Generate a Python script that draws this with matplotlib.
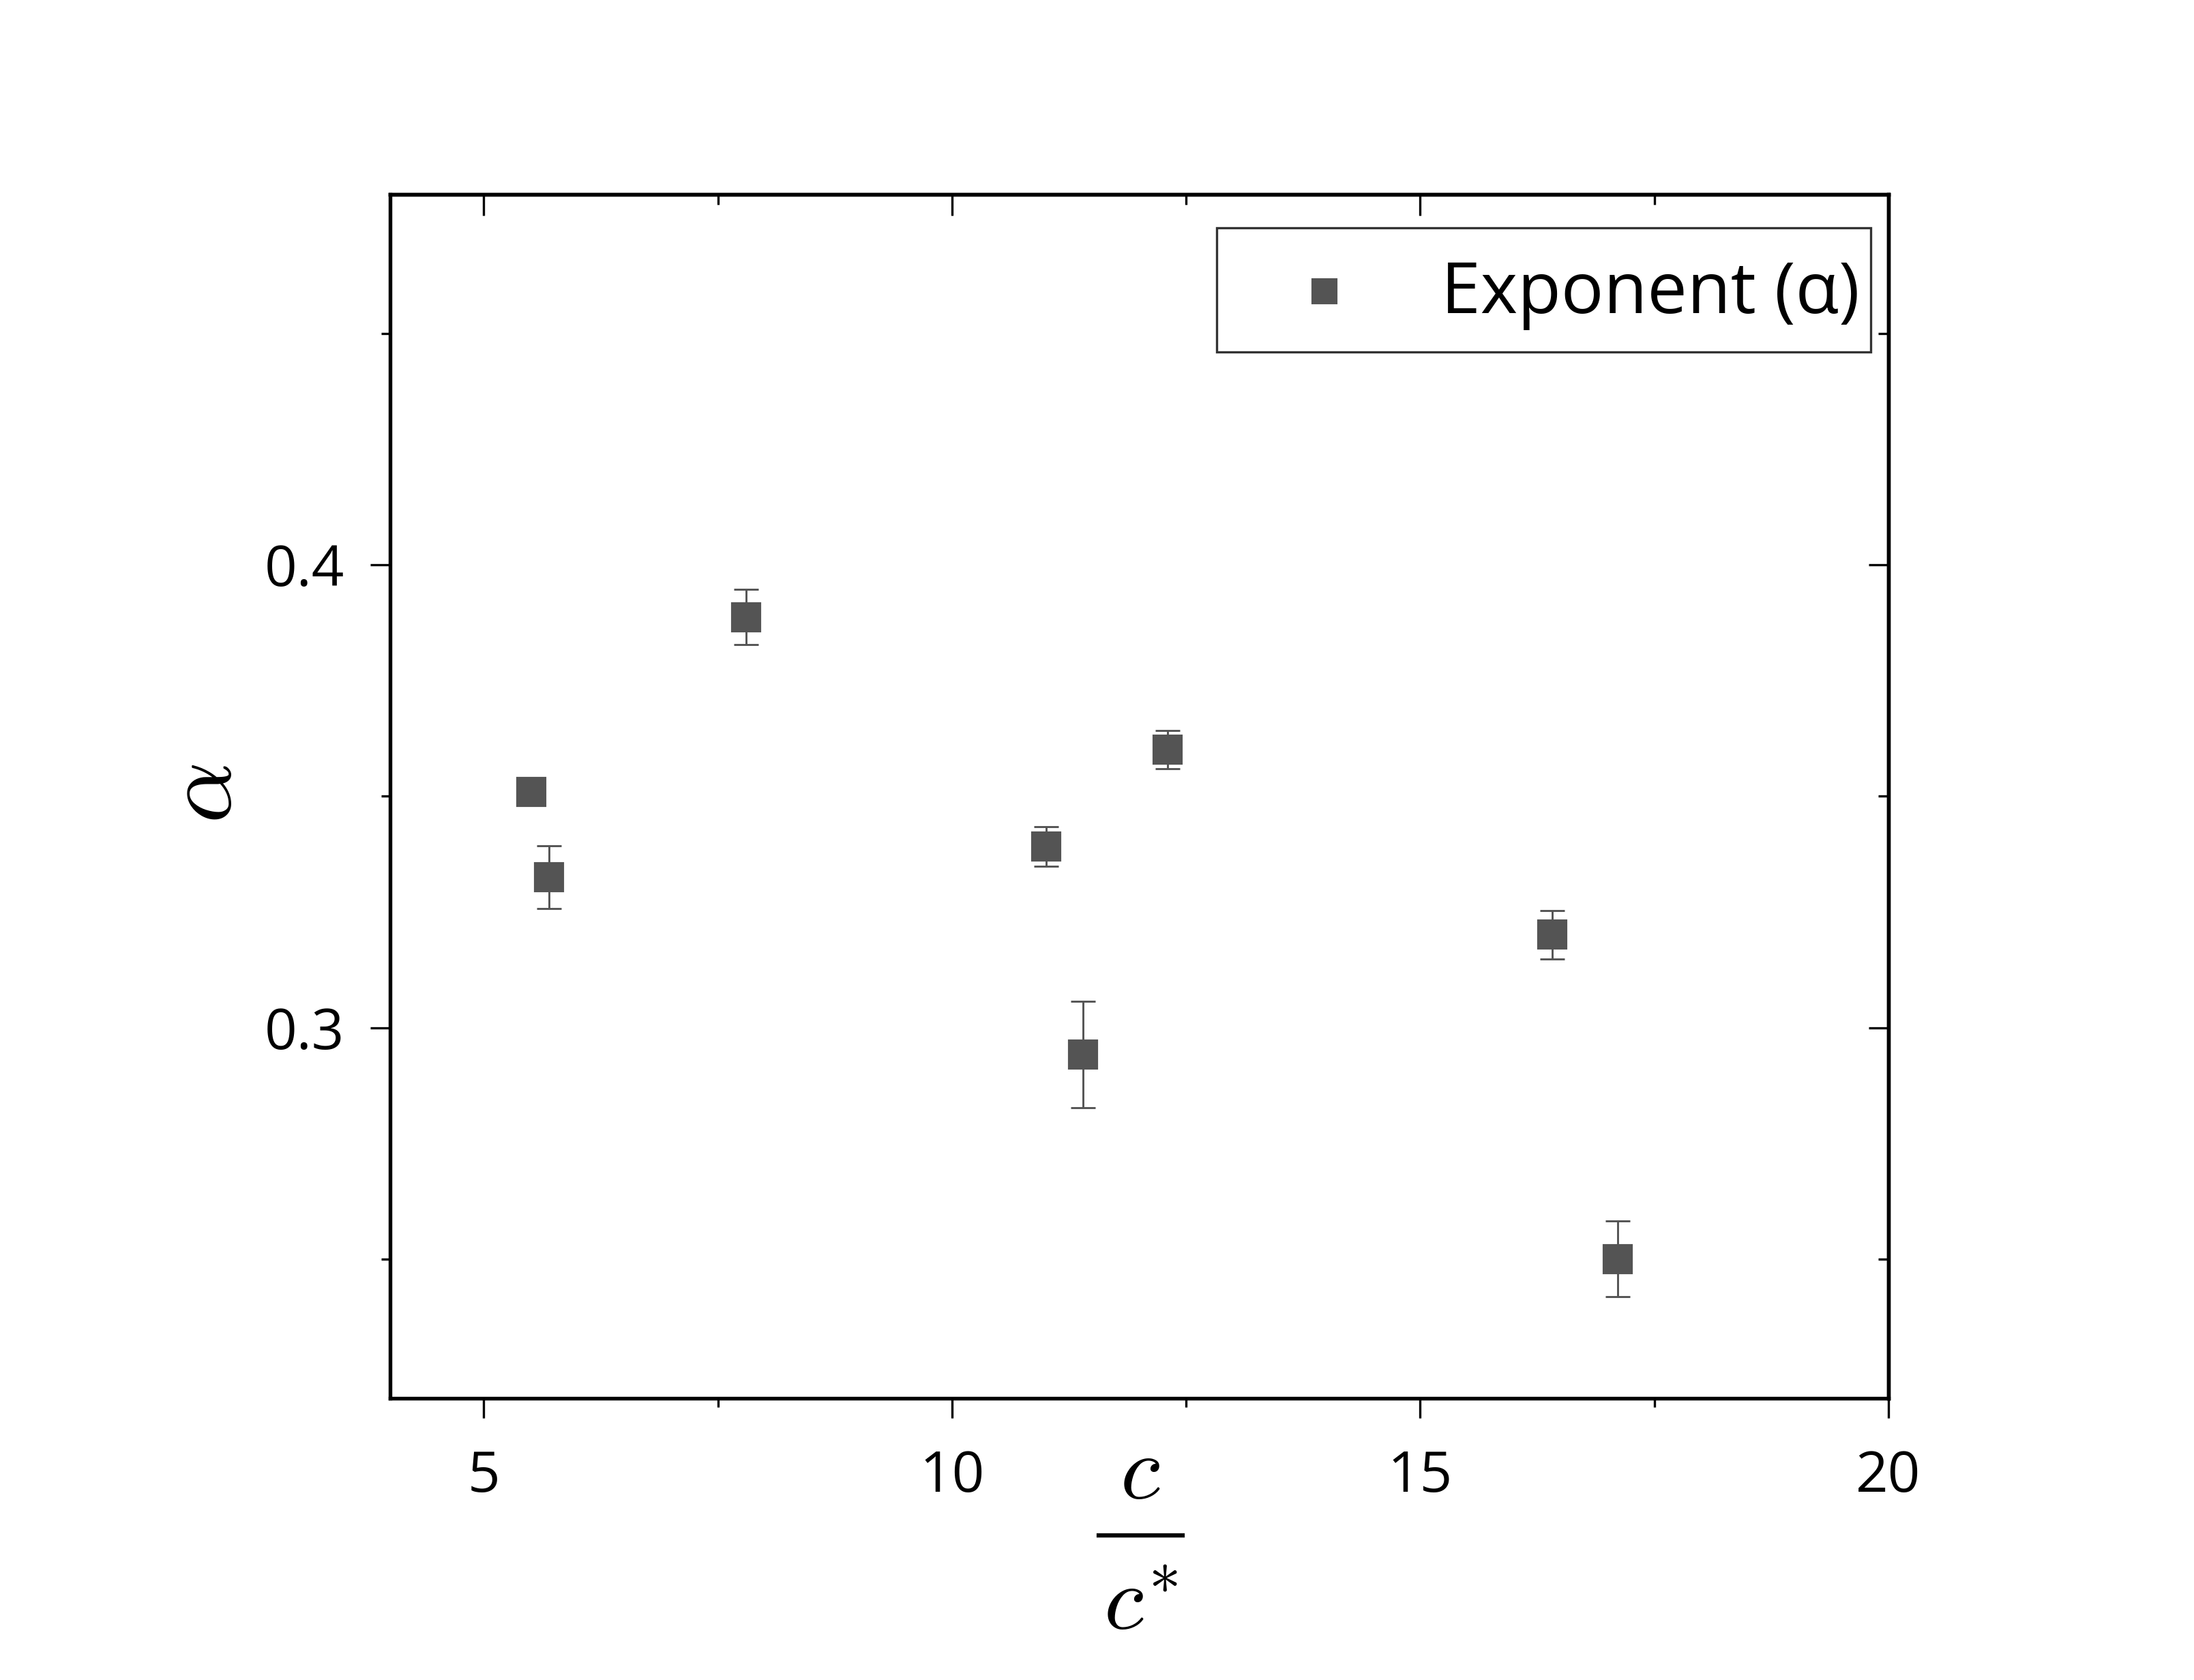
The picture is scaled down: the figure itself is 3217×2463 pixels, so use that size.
import matplotlib
matplotlib.use("Agg")
import matplotlib.pyplot as plt
from matplotlib.ticker import MultipleLocator
from matplotlib.legend_handler import HandlerLine2D

# data
conc = [5.51, 5.70, 7.80, 11.01, 11.40, 12.30, 16.41, 17.11]
alpha = [0.3510, 0.3325, 0.3887, 0.3392, 0.2942, 0.3601, 0.3201, 0.2501]
alpha_err = [0.0, 0.0068, 0.0060, 0.0043, 0.0115, 0.0041, 0.0052, 0.0082]

xticks = [5, 10, 15, 20]
yticks = [0.3, 0.4]
legend_label = "Exponent (\u03b1)"

plt.rcParams['font.family'] = ['Open Sans', 'DejaVu Sans']
plt.rcParams['mathtext.fontset'] = 'cm'

gray = '#545454'


class LoweredMarker(HandlerLine2D):
    # put the legend square level with the middle of the text
    def create_artists(self, legend, orig_handle, xdescent, ydescent,
                       width, height, fontsize, trans):
        return super().create_artists(legend, orig_handle, xdescent,
                                      ydescent + 0.43 * fontsize,
                                      width, height, fontsize, trans)


fig = plt.figure(figsize=(3217 / 300, 2463 / 300), dpi=300)
ax = fig.add_axes([0.1778, 0.1677, 0.6829, 0.7166])

eb = ax.errorbar(conc, alpha, yerr=alpha_err, fmt='s', color=gray, ms=9.4,
                 mec=gray, mfc=gray, ecolor=gray, elinewidth=0.7, capsize=4.3,
                 capthick=0.7)

ax.set_xlim(4, 20)
ax.set_ylim(0.22, 0.48)
ax.set_xticks(xticks)
ax.set_yticks(yticks)
ax.xaxis.set_minor_locator(MultipleLocator(2.5))
ax.yaxis.set_minor_locator(MultipleLocator(0.05))
ax.tick_params(which='major', direction='out', length=7, width=0.8,
               labelsize=20, pad=11)
ax.tick_params(axis='y', which='major', pad=9)
ax.tick_params(which='minor', direction='out', length=3.2, width=0.8)
for s in ax.spines.values():
    s.set_linewidth(1.3)

# mirrored ticks pointing inward on top and right
top = ax.secondary_xaxis('top')
top.set_xticks(xticks)
top.xaxis.set_minor_locator(MultipleLocator(2.5))
top.tick_params(which='major', direction='in', length=7.5, width=0.8, labeltop=False)
top.tick_params(which='minor', direction='in', length=3.5, width=0.8)
top.spines['top'].set_linewidth(1.3)

right = ax.secondary_yaxis('right')
right.set_yticks(yticks)
right.yaxis.set_minor_locator(MultipleLocator(0.05))
right.tick_params(which='major', direction='in', length=7, width=0.8, labelright=False)
right.tick_params(which='minor', direction='in', length=3.5, width=0.8)
right.spines['right'].set_linewidth(1.3)

# y label
ax.set_ylabel(r'$\alpha$', fontsize=34)
ax.yaxis.set_label_coords(-0.091, 0.5025)

# x label drawn as a stacked fraction c / c*
ax.text(0.5007, -0.0635, r'$c$', transform=ax.transAxes, fontsize=32,
        ha='center', va='center')
ax.plot([0.473, 0.529], [-0.114, -0.114], transform=ax.transAxes,
        color='k', lw=1.5, clip_on=False)
ax.text(0.5007, -0.172, r'$c^{*}$', transform=ax.transAxes, fontsize=32,
        ha='center', va='center')

leg = ax.legend(handles=[eb.lines[0]], labels=[legend_label],
                handler_map={eb.lines[0]: LoweredMarker()},
                loc='upper right', bbox_to_anchor=(0.988, 0.972),
                fontsize=25, frameon=True, fancybox=False, borderpad=0.15,
                handlelength=2.74, handleheight=1.85, handletextpad=0.27,
                borderaxespad=0, markerscale=0.85)
leg.get_frame().set_edgecolor('k')
leg.get_frame().set_linewidth(0.8)

fig.savefig('out.png', dpi=300)
